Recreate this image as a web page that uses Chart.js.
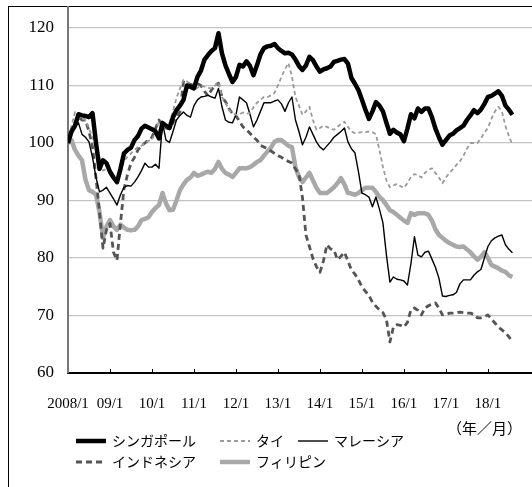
<!DOCTYPE html>
<html>
<head>
<meta charset="utf-8">
<script src="https://cdn.jsdelivr.net/npm/chart.js@4.4.1/dist/chart.umd.min.js"></script>
<style>
html, body { margin: 0; padding: 0; background: #fff; }
#wrap { position: relative; width: 532px; height: 487px; overflow: hidden; }
#frame { position: absolute; left: 8px; top: 6px; width: 700px; height: 700px; border-left: 1px solid #000; border-top: 1px solid #000; }
#c { position: absolute; left: 0; top: 0; }
</style>
</head>
<body>
<div id="wrap">
  <div id="frame"></div>
  <canvas id="c" width="532" height="487" style="width:532px;height:487px"></canvas>
</div>
<script>
// monthly index, 2008/1 = 100
const xLabels = ['2008/1', '09/1', '10/1', '11/1', '12/1', '13/1', '14/1', '15/1', '16/1', '17/1', '18/1'];
const yTicks = [60, 70, 80, 90, 100, 110, 120];
const seriesNames = ['シンガポール', 'タイ', 'マレーシア', 'インドネシア', 'フィリピン'];

const singapore = [
  100, 102, 103, 105, 104.8, 104.7, 104.5, 105.2, 100, 95.5, 97, 96.5,
  95, 94, 93.2, 95.5, 98.2, 98.8, 99.2, 100.5, 101.2, 102.5, 103, 102.7,
  102.4, 102, 100.8, 103.5, 103, 102.6, 104.5, 105.7, 106.5, 107.5, 110, 109.8,
  109.5, 111.5, 112.6, 114.5, 115.3, 116, 116.5, 119.1, 115.6, 113.5, 112, 110.6,
  111.5, 113.6, 113.3, 114.2, 113.4, 111.8, 113.5, 115.4, 116.5, 116.8, 116.9, 117.2,
  116.5, 116, 115.6, 115.7, 115.4, 114.5, 113.4, 112.7, 113.5, 115, 114.4, 113.3,
  112.4, 112.8, 113, 113.3, 114.1, 114.3, 114.5, 114.6, 113.8, 111.3, 110.3, 109.2,
  107.5, 105.8, 104.2, 105.5, 107.1, 106.5, 105.5, 103.5, 101.6, 102.3, 101.8, 101.5,
  100.3, 102.5, 105, 104.3, 106, 105.4, 106, 106, 104.5, 102.5, 101, 99.7,
  100.5, 101.3, 101.6, 102.2, 102.6, 103, 104, 104.8, 105.7, 105.2, 105.8, 106.8,
  108, 108.2, 108.6, 109, 108.2, 106.5, 105.8, 104.9
];
const thailand = [
  100, 103, 105.4, 105, 104.2, 104, 102.5, 101, 99.5, 97.5, 95.2, 95.5,
  95, 94.2, 93.6, 95, 96.8, 97.6, 98.2, 98.8, 99.3, 99.5, 100, 100.4,
  100.5, 102, 103.8, 103, 102.6, 103.5, 105.5, 107.8, 109.5, 111, 110.7, 110.2,
  109.2, 109.6, 110, 109.8, 109.6, 109.5, 110, 110.6, 108, 107, 105.7, 105.2,
  104.9, 105, 105.3, 105.1, 105.2, 106.2, 107, 107.5, 108, 108, 108.3, 108.7,
  110, 111.5, 112.8, 113.9, 111.5, 108, 106.5, 104.9, 105.5, 106.3, 104, 102.3,
  102.6, 103, 102.8, 102.5, 102.3, 102.8, 103.3, 103.7, 102.8, 102, 101.7, 101.8,
  101.9, 101.9, 102, 101.9, 101.5, 98.8, 95.8, 93.5, 92.3, 92.6, 92.9, 92.5,
  92.2, 93, 94.1, 94.6, 94.4, 94, 94.8, 95.3, 95.6, 94.8, 94, 93,
  94, 94.8, 95.4, 96.2, 96.8, 97.8, 99, 100, 100, 100, 100.8, 101.8,
  102.6, 104.2, 105.5, 106.3, 105.5, 103, 101.2, 99.7
];
const malaysia = [
  100, 101.7, 102.8, 103.5, 101.5, 101, 100.2, 97.5, 94, 91.5, 91.8, 92.3,
  91.3, 90.3, 89.2, 91, 92.3, 92.6, 92.5, 93.2, 94.1, 95.2, 96.5, 95.8,
  95.8, 96.3, 95.6, 103.5, 100.5, 100.1, 102, 104, 104.8, 105.4, 104.8, 104.5,
  106.5, 107.5, 108, 108.1, 108.3, 108, 107.8, 109.5, 106.3, 104, 103.6, 103.5,
  104.9, 108, 107.5, 107, 105, 102.8, 104, 105.5, 107, 107, 107, 107.3,
  107.5, 106.8, 105.5, 107, 108, 104, 102, 99.7, 101, 102.8, 101.5, 100.2,
  99.3, 98.8, 99.5, 100.2, 101, 101.5, 102, 102.6, 100.2, 99, 98.3, 95,
  91.3, 91, 90.6, 88.9, 90.6, 88.5, 86.1, 80.5, 75.8, 76.7, 76.3, 76.2,
  76, 75.3, 79, 83.7, 80.5, 80.2, 81, 81.2, 79.8, 78.4, 76.5, 73.4,
  73.3, 73.5, 73.6, 74, 75.5, 76.2, 76.2, 76.2, 77, 77.6, 78, 80,
  82, 83, 83.5, 83.8, 84, 82.3, 81.5, 80.9
];
const indonesia = [
  100, 102, 103.5, 104.5, 104, 104, 102, 99.3, 94, 88, 81.7, 84.9,
  86, 81, 79.6, 86.1, 92, 94.5, 96.5, 97.5, 98.8, 99.5, 100, 100.5,
  101, 102.5, 104, 103, 102.6, 102.5, 103.5, 104.5, 105.4, 110.6, 110.3, 110.2,
  110, 110.3, 110, 109, 108.2, 109.2, 110, 110.4, 108, 107.2, 106, 105.1,
  104.7, 103.8, 102.8, 102.3, 101.7, 101, 100.5, 99.6, 99.3, 99, 98.6, 98.2,
  97.8, 97.5, 97.1, 96.8, 96.5, 95.5, 94.6, 90.5, 84, 82, 79.9, 78.5,
  77.5, 79.5, 82.3, 81.6, 81.4, 79.7, 80.3, 81, 79.5, 77.9, 77.2, 76.2,
  75, 74.2, 73.5, 72.3, 71.6, 71, 70.5, 69.3, 65.4, 68, 68.4, 68.3,
  68, 68.8, 71, 71.3, 70.9, 70.1, 71.3, 71.7, 72, 72.2, 71.3, 70.1,
  70.2, 70.4, 70.4, 70.5, 70.6, 70.5, 70.4, 70.4, 70.2, 69.6, 69.6, 69.8,
  70.1, 69.4, 68.7, 68, 67.5, 67, 66.3, 65.4
];
const philippines = [
  100, 100.5, 98.8, 97.8, 97, 93.6, 91.8, 91.5, 91, 88, 83.5, 85.5,
  86.6, 85.5, 84.9, 85.8, 85.3, 84.9, 84.8, 84.9, 85.5, 86.6, 86.8, 87.1,
  88, 88.7, 89.2, 91.3, 89.5, 88.3, 88.4, 90, 91.8, 92.8, 93.6, 94,
  94.8, 94.3, 94.5, 94.8, 95, 94.8, 95.5, 96.7, 95.5, 94.8, 94.5, 94.1,
  94.8, 95.6, 95.6, 95.6, 95.8, 96.2, 96.7, 97, 97.8, 98.5, 99.2, 100.2,
  100.5, 100.5, 100, 99.5, 99.3, 95.8, 94.1, 93.2, 94, 94.8, 93.5, 92.2,
  91.3, 91.3, 91.3, 91.8, 92.3, 93, 93.9, 92.8, 91.3, 91.2, 91, 91.3,
  91.8, 92.2, 92.2, 92.2, 91.5, 90.6, 90.1, 89.2, 88.3, 88, 87.5, 87,
  86.5, 86.1, 87.8, 87.5, 87.8, 87.8, 87.8, 87.5, 86.5, 85, 84, 83.5,
  83, 82.6, 82.3, 82, 81.9, 82, 81.5, 81, 80.3, 79.7, 80.2, 81,
  80, 78.8, 78.5, 78.2, 77.8, 77.6, 77, 76.7
];

const toXY = arr => arr.map((v, i) => ({ x: i, y: v }));

const legendSpots = [[76, 441], [220, 441], [298, 441], [76, 462], [220, 462]];

const extras = {
  id: 'extras',
  afterDraw(chart) {
    const ctx = chart.ctx;
    const xs = chart.scales.x;
    const bottom = chart.chartArea.bottom;
    ctx.save();
    // inward tick marks on the x axis
    ctx.strokeStyle = '#000';
    ctx.lineWidth = 1;
    xLabels.forEach((_, i) => {
      if (i === 0) return;
      const px = Math.round(xs.getPixelForValue(i * 12)) + 0.5;
      ctx.beginPath();
      ctx.moveTo(px, bottom);
      ctx.lineTo(px, bottom - 4);
      ctx.stroke();
    });
    // legend
    ctx.fillStyle = '#000';
    ctx.font = '14px "Noto Sans CJK JP"';
    ctx.textBaseline = 'middle';
    chart.data.datasets.forEach((ds, i) => {
      const [lx, ly] = legendSpots[i];
      ctx.strokeStyle = ds.borderColor;
      ctx.lineWidth = ds.borderWidth;
      ctx.setLineDash(ds.borderDash || []);
      ctx.beginPath();
      ctx.moveTo(lx, ly);
      ctx.lineTo(lx + 30, ly);
      ctx.stroke();
      ctx.setLineDash([]);
      ctx.fillText(ds.label, lx + 36, ly);
    });
    ctx.font = '15px "Noto Sans CJK JP"';
    ctx.textAlign = 'right';
    ctx.fillText('（年／月）', 522, 428);
    ctx.restore();
  }
};

new Chart(document.getElementById('c'), {
  type: 'line',
  data: {
    datasets: [
      { label: seriesNames[0], data: toXY(singapore), borderColor: '#000', borderWidth: 4.5 },
      { label: seriesNames[1], data: toXY(thailand), borderColor: '#9a9a9a', borderWidth: 1.8, borderDash: [4, 3] },
      { label: seriesNames[2], data: toXY(malaysia), borderColor: '#000', borderWidth: 1.4 },
      { label: seriesNames[3], data: toXY(indonesia), borderColor: '#555', borderWidth: 2.8, borderDash: [6, 4] },
      { label: seriesNames[4], data: toXY(philippines), borderColor: '#a8a8a8', borderWidth: 4.5 }
    ]
  },
  options: {
    responsive: false,
    animation: false,
    layout: { padding: { top: 7, left: 0, right: 0, bottom: 0 } },
    elements: { point: { radius: 0 }, line: { tension: 0, borderJoinStyle: 'round', borderCapStyle: 'butt' } },
    plugins: { legend: { display: false }, tooltip: { enabled: false } },
    scales: {
      x: {
        type: 'linear',
        min: 0,
        max: 132.6,
        afterBuildTicks: s => { s.ticks = xLabels.map((_, i) => ({ value: i * 12 })); },
        afterFit: s => { s.height = 114; s.paddingLeft = 0; s.paddingRight = 0; },
        ticks: {
          callback: (v, i) => xLabels[i],
          autoSkip: false,
          maxRotation: 0,
          padding: 22,
          color: '#000',
          font: { family: 'Liberation Serif', size: 15 }
        },
        grid: { display: false, drawTicks: false },
        border: { display: true, color: '#000', width: 2 }
      },
      y: {
        min: 60,
        max: 123.65,
        afterBuildTicks: s => { s.ticks = yTicks.map(v => ({ value: v })); },
        afterFit: s => { s.width = 68; s.paddingTop = 0; s.paddingBottom = 0; },
        ticks: {
          padding: 14,
          color: '#000',
          font: { family: 'Liberation Serif', size: 17 }
        },
        grid: {
          drawTicks: false,
          color: c => (c.tick && c.tick.value === 60 ? 'rgba(0,0,0,0)' : '#c4c4c4'),
          lineWidth: 1.2
        },
        border: { color: '#777', width: 2 }
      }
    }
  },
  plugins: [extras]
});
</script>
</body>
</html>
